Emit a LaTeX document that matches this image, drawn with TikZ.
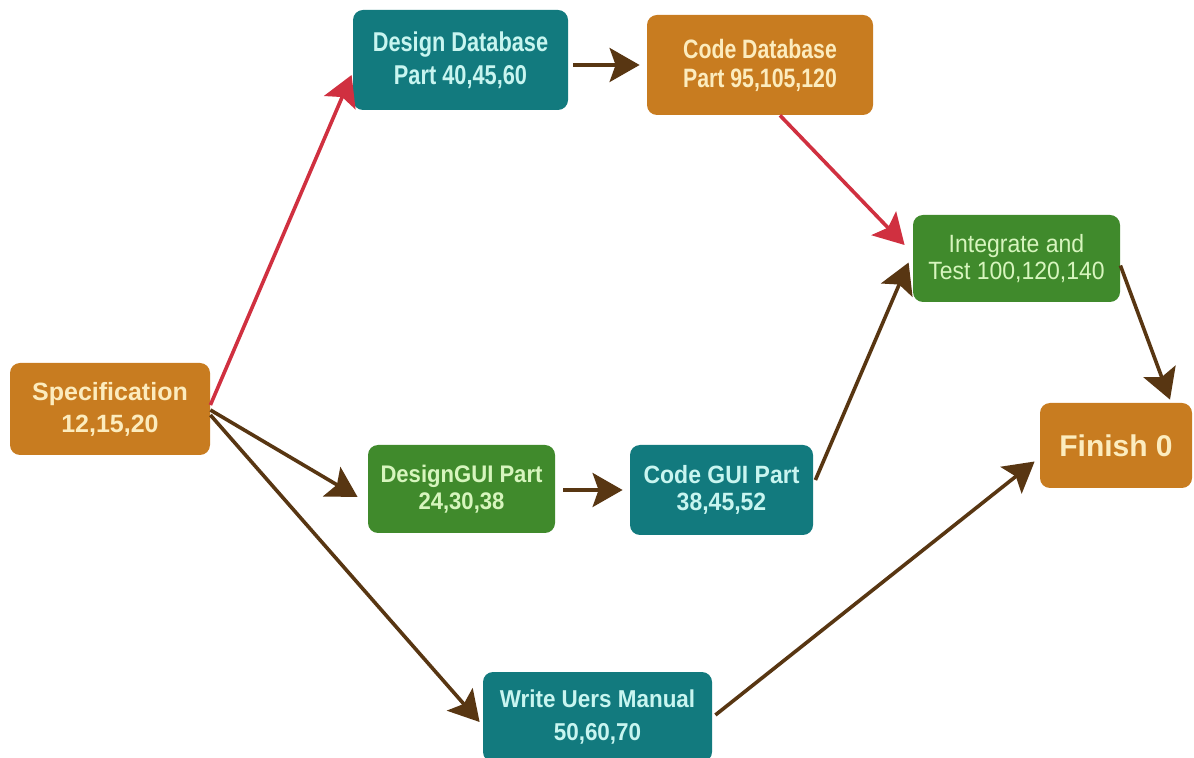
\documentclass[tikz,border=0pt]{standalone}
\usepackage{fontspec}
\setmainfont{Liberation Sans}
\newfontfamily\trimfont{Liberation Sans}[FakeStretch=0.92]
\newfontfamily\narrowfont{Liberation Sans}[FakeStretch=0.8]
\usetikzlibrary{arrows.meta}

\definecolor{taskorange}{RGB}{200,124,32}
\definecolor{taskteal}{RGB}{18,122,126}
\definecolor{taskgreen}{RGB}{64,138,44}
\definecolor{txtcream}{RGB}{252,236,190}
\definecolor{txtcyan}{RGB}{200,245,240}
\definecolor{txtlime}{RGB}{215,245,190}
\definecolor{arrbrown}{RGB}{88,54,18}
\definecolor{arrred}{RGB}{208,48,64}

\begin{document}
\begin{tikzpicture}[
  x=0.5pt, y=-0.5pt,
  arr/.style={-{Stealth[length=15pt,width=17pt,inset=3pt]}, line width=1.8pt, draw=arrbrown},
  crit/.style={arr, draw=arrred},
  task/.style={rounded corners=5pt, inner sep=2pt, align=center},
  orangetask/.style={task, fill=taskorange, text=txtcream},
  tealtask/.style={task, fill=taskteal, text=txtcyan},
  greentask/.style={task, fill=taskgreen, text=txtlime},
]

\useasboundingbox[fill=white] (0,0) rectangle (1194,758);

\node[orangetask, minimum width=100pt, minimum height=46pt,
      font=\fontsize{12.5}{16}\selectfont\bfseries] (spec) at (110,409)
      {Specification\\12,15,20};

\node[tealtask, minimum width=107.5pt, minimum height=50pt,
      font=\fontsize{13.6}{16.5}\selectfont\narrowfont\bfseries] (ddb) at (460.5,60)
      {Design Database\\Part 40,45,60};
\node[orangetask, minimum width=113pt, minimum height=50pt,
      font=\fontsize{13.3}{14.5}\selectfont\narrowfont\bfseries] (cdb) at (760,65)
      {Code Database\\Part 95,105,120};

\node[greentask, minimum width=93.5pt, minimum height=44pt,
      font=\fontsize{12}{13.5}\selectfont\trimfont\bfseries] (dgui) at (461.5,489)
      {DesignGUI Part\\24,30,38};
\node[tealtask, minimum width=91.5pt, minimum height=45pt,
      font=\fontsize{12.5}{13.5}\selectfont\trimfont\bfseries] (cgui) at (721.5,490)
      {Code GUI Part\\38,45,52};

\node[tealtask, minimum width=114.5pt, minimum height=45pt,
      font=\fontsize{12.2}{16.5}\selectfont\trimfont\bfseries] (manual) at (597.5,717)
      {Write Uers Manual\\50,60,70};

\node[greentask, minimum width=103.5pt, minimum height=43.5pt,
      font=\fontsize{12.5}{13.5}\selectfont\trimfont] (integ) at (1016.5,258.5)
      {Integrate and\\Test 100,120,140};

\node[orangetask, minimum width=76pt, minimum height=42.5pt,
      font=\fontsize{15}{18}\selectfont\bfseries] (finish) at (1116,445.5)
      {Finish 0};

\draw[crit] ([yshift=2pt]spec.east) -- ([xshift=-0.5pt,yshift=-7.5pt]ddb.west);
\draw[arr] ([xshift=2.5pt,yshift=-2.5pt]ddb.east) -- ([xshift=-3.5pt]cdb.west);
\draw[crit] ([xshift=10pt]cdb.south) -- ([xshift=-4pt,yshift=6.75pt]integ.west);

\draw[arr] ([yshift=-0.5pt]spec.east) -- ([xshift=-5pt,yshift=-4pt]dgui.west);
\draw[arr] ([xshift=4pt,yshift=-0.5pt]dgui.east) -- ([xshift=-3.5pt]cgui.west);
\draw[arr] ([xshift=1pt,yshift=5pt]cgui.east) -- ([xshift=-2pt,yshift=-2pt]integ.west);

\draw[arr] ([yshift=-3pt]spec.east) -- ([xshift=-1.5pt,yshift=-2.5pt]manual.west);

\draw[arr] ([yshift=-3.5pt]integ.east) -- ([xshift=27pt,yshift=1.5pt]finish.north);
\draw[arr] ([xshift=1.5pt,yshift=1pt]manual.east) -- ([xshift=-2.5pt,yshift=-8pt]finish.west);

\end{tikzpicture}
\end{document}
